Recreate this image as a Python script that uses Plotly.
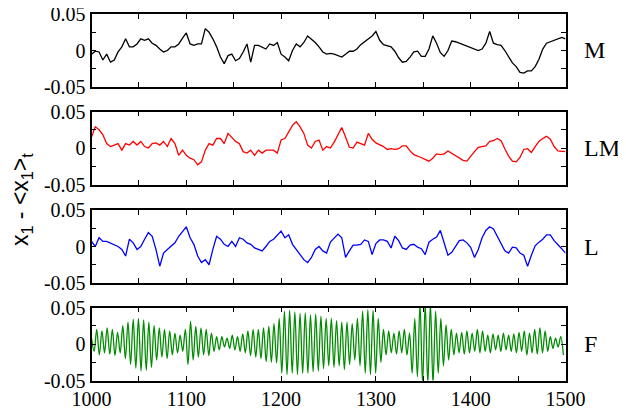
import numpy as np
import plotly.graph_objects as go

# ---------------- data ----------------
t_start = 1000
step = 4

m_vals = [
    -0.005, -0.001, -0.002, -0.013, -0.005, -0.016, -0.013, -0.002, 0.005, 0.016,
    0.005, 0.005, 0.009, 0.016, 0.014, 0.016, 0.010, 0.007, 0.002, -0.002,
    0.000, 0.005, 0.005, 0.009, 0.017, 0.024, 0.009, 0.007, 0.009, 0.009,
    0.030, 0.025, 0.016, 0.005, -0.009, -0.018, -0.007, -0.005, -0.014, -0.011,
    -0.002, 0.009, -0.016, 0.007, 0.007, 0.005, 0.002, 0.009, 0.007, 0.011,
    -0.005, -0.009, -0.014, 0.000, 0.009, 0.005, 0.011, 0.020, 0.016, 0.011,
    0.005, -0.002, -0.005, -0.004, -0.005, -0.007, -0.009, -0.005, -0.001, -0.001,
    0.002, 0.008, 0.012, 0.016, 0.020, 0.026, 0.014, 0.008, 0.007, 0.005,
    -0.001, -0.010, -0.016, -0.015, -0.009, -0.002, -0.001, -0.008, -0.008, 0.002,
    0.020, 0.010, -0.003, -0.008, 0.000, 0.013, 0.012, 0.010, 0.008, 0.005,
    0.004, 0.001, 0.000, 0.002, 0.010, 0.026, 0.010, 0.008, 0.007, 0.000,
    -0.008, -0.017, -0.022, -0.030, -0.031, -0.028, -0.028, -0.022, -0.012, 0.002,
    0.010, 0.012, 0.015, 0.017, 0.018, 0.016,
]

lm_vals = [
    0.015, 0.029, 0.025, 0.018, 0.006, 0.002, 0.004, 0.006, -0.003, 0.006,
    0.004, 0.009, 0.004, 0.009, 0.002, 0.000, 0.006, 0.007, 0.004, 0.009,
    0.002, 0.013, 0.006, -0.010, -0.003, -0.010, -0.014, -0.016, -0.023, -0.019,
    -0.003, 0.006, 0.004, 0.013, 0.013, 0.006, 0.020, 0.015, 0.009, 0.006,
    -0.005, -0.007, -0.003, -0.010, -0.003, -0.007, -0.003, -0.003, -0.003, -0.007,
    0.011, 0.013, 0.022, 0.031, 0.036, 0.029, 0.020, 0.004, 0.000, 0.009,
    0.011, -0.003, 0.002, 0.000, 0.008, 0.018, 0.028, 0.015, 0.001, 0.000,
    0.008, 0.006, 0.004, 0.020, 0.012, 0.007, 0.005, 0.002, -0.002, -0.001,
    -0.002, -0.001, 0.003, 0.003, -0.004, -0.009, -0.011, -0.013, -0.015, -0.018,
    -0.014, -0.008, -0.009, -0.008, -0.004, -0.007, -0.011, -0.013, -0.017, -0.018,
    -0.011, -0.005, 0.001, 0.002, 0.003, 0.009, 0.010, 0.013, 0.010, -0.001,
    -0.011, -0.018, -0.019, -0.013, -0.002, -0.001, -0.006, 0.002, 0.009, 0.013,
    0.016, 0.012, 0.002, -0.004, -0.004, -0.005,
]

l_vals = [
    0.007, 0.000, 0.012, 0.007, 0.007, 0.005, 0.003, 0.000, -0.004, -0.013,
    0.010, 0.005, -0.004, 0.000, 0.010, 0.019, 0.014, -0.004, -0.027, -0.009,
    -0.004, 0.000, 0.005, 0.014, 0.021, 0.027, 0.012, 0.003, -0.013, -0.022,
    -0.018, -0.025, -0.004, 0.014, 0.010, 0.003, 0.000, 0.007, 0.000, 0.012,
    0.010, 0.005, 0.003, -0.002, -0.004, -0.006, 0.000, 0.007, 0.010, 0.016,
    0.021, 0.012, 0.016, 0.003, -0.004, -0.011, -0.018, -0.022, -0.015, -0.004,
    0.000, -0.006, -0.009, 0.006, 0.011, 0.017, 0.012, -0.015, -0.006, 0.002,
    0.002, 0.003, 0.009, 0.007, -0.011, 0.004, 0.009, 0.009, 0.007, -0.002,
    0.014, 0.008, -0.002, -0.004, 0.002, 0.003, -0.001, -0.003, -0.011, 0.006,
    0.010, 0.013, 0.022, 0.006, -0.012, -0.008, 0.001, 0.008, 0.009, 0.005,
    -0.001, -0.015, -0.004, 0.012, 0.022, 0.027, 0.024, 0.014, 0.005, -0.006,
    -0.009, -0.001, -0.002, -0.009, -0.012, -0.027, -0.012, 0.001, 0.006, 0.010,
    0.016, 0.016, 0.008, 0.003, -0.003, -0.009,
]

# F: successive maxima / minima of the fast oscillation (half period ~2.75)
f_half_period = 2.75
f_vals = [
    0.008, -0.010, 0.020, -0.015, 0.018, -0.012, 0.022, -0.014, 0.020, -0.016,
    0.016, -0.012, 0.025, -0.020, 0.030, -0.028, 0.034, -0.033, 0.035, -0.037,
    0.033, -0.036, 0.030, -0.032, 0.025, -0.022, 0.022, -0.018, 0.020, -0.020,
    0.018, -0.015, 0.015, -0.012, 0.012, -0.010, 0.020, -0.028, 0.031, -0.022,
    0.024, -0.018, 0.022, -0.015, 0.020, -0.016, 0.015, -0.010, 0.010, -0.008,
    0.010, -0.004, 0.008, -0.006, 0.012, -0.008, 0.010, -0.010, 0.014, -0.012,
    0.018, -0.016, 0.020, -0.018, 0.020, -0.020, 0.022, -0.024, 0.024, -0.025,
    0.028, -0.026, 0.035, -0.040, 0.045, -0.042, 0.046, -0.040, 0.044, -0.042,
    0.042, -0.040, 0.043, -0.040, 0.040, -0.038, 0.041, -0.037, 0.038, -0.034,
    0.035, -0.030, 0.035, -0.032, 0.032, -0.030, 0.030, -0.035, 0.030, -0.028,
    0.028, -0.022, 0.035, -0.030, 0.045, -0.040, 0.047, -0.042, 0.046, -0.040,
    0.035, -0.025, 0.020, -0.015, 0.018, -0.012, 0.015, -0.014, 0.018, -0.012,
    0.020, -0.015, 0.015, -0.040, 0.035, -0.045, 0.055, -0.055, 0.055, -0.055,
    0.055, -0.055, 0.045, -0.040, 0.035, -0.030, 0.026, -0.022, 0.020, -0.015,
    0.015, -0.012, 0.016, -0.014, 0.018, -0.012, 0.015, -0.010, 0.020, -0.012,
    0.018, -0.010, 0.012, -0.012, 0.014, -0.008, 0.012, -0.010, 0.015, -0.008,
    0.012, -0.010, 0.014, -0.012, 0.016, -0.010, 0.018, -0.015, 0.015, -0.012,
    0.020, -0.014, 0.022, -0.012, 0.018, -0.010, 0.010, -0.006, 0.008, -0.004,
    0.010, -0.015,
]

panel_names = ["M", "LM", "L", "F"]
panel_colors = ["#000000", "#ff0000", "#0000ff", "#008c00"]

y_tickvals = [-0.05, 0, 0.05]
y_ticktext = ["-0.05", "0", "0.05"]
x_tickvals = [1000, 1100, 1200, 1300, 1400, 1500]
x_ticktext = ["1000", "1100", "1200", "1300", "1400", "1500"]

# ---------------- figure ----------------
# the page body adds an 8 px offset, so the figure is laid out in its own frame
OFF = 8
W, H = 626 - OFF, 410 - OFF
x_dom = [(91.5 - OFF) / W, (565.5 - OFF) / W]
panel_px = [(14, 87), (111.5, 184.5), (210, 283), (307.5, 380.5)]

def t_axis(n, dt):
    return [t_start + dt * i for i in range(n)]

series = [
    (t_axis(len(m_vals), step), m_vals, "linear"),
    (t_axis(len(lm_vals), step), lm_vals, "linear"),
    (t_axis(len(l_vals), step), l_vals, "linear"),
    (t_axis(len(f_vals), f_half_period), f_vals, "spline"),
]

fig = go.Figure()
serif = "Liberation Serif"

for k, ((xs, ys, shape), color) in enumerate(zip(series, panel_colors)):
    idx = "" if k == 0 else str(k + 1)
    fig.add_trace(go.Scatter(
        x=xs, y=ys, mode="lines",
        line=dict(color=color, width=1.3, shape=shape),
        xaxis="x" + idx, yaxis="y" + idx, showlegend=False,
        hoverinfo="skip",
    ))
    top, bot = panel_px[k]
    ydom = [1 - (bot - OFF) / H, 1 - (top - OFF) / H]
    common = dict(
        showline=True, linecolor="black", linewidth=1.8, mirror="allticks",
        ticks="inside", ticklen=5, tickwidth=1.3, tickcolor="black",
        showgrid=False, zeroline=False, automargin=False,
        ticklabeloverflow="allow",
        tickfont=dict(family=serif, size=20, color="black"),
    )
    fig.layout["xaxis" + idx] = dict(
        domain=x_dom, range=[1000, 1500], anchor="y" + idx,
        tickmode="array", tickvals=x_tickvals, ticktext=x_ticktext,
        showticklabels=(k == 3),
        minor=dict(ticks="inside", ticklen=5, tickwidth=1.3, tickcolor="black",
                   tick0=1050, dtick=100, showgrid=False),
        **common,
    )
    fig.layout["yaxis" + idx] = dict(
        domain=ydom, range=[-0.05, 0.05], anchor="x" + idx,
        tickmode="array", tickvals=y_tickvals, ticktext=y_ticktext,
        minor=dict(ticks="inside", ticklen=5, tickwidth=1.3, tickcolor="black",
                   tick0=-0.025, dtick=0.05, showgrid=False),
        **common,
    )
    fig.add_annotation(
        x=(582 - OFF) / W, y=1 - ((top + bot) / 2 - OFF) / H,
        xref="paper", yref="paper",
        text=panel_names[k], showarrow=False, xanchor="left", yanchor="middle",
        font=dict(family=serif, size=24, color="black"),
    )

fig.add_annotation(
    x=(21 - OFF) / W, y=1 - (200 - OFF) / H, xref="paper", yref="paper",
    text="x<sub>1</sub> - &lt;x<sub>1</sub>&gt;<sub>t</sub>",
    showarrow=False, textangle=-90, xanchor="center", yanchor="middle",
    font=dict(family="Liberation Sans", size=23, color="black"),
)

fig.update_layout(
    width=W, height=H, margin=dict(l=0, r=0, t=0, b=0, autoexpand=False),
    paper_bgcolor="white", plot_bgcolor="white",
)

fig.write_html("out.html")
